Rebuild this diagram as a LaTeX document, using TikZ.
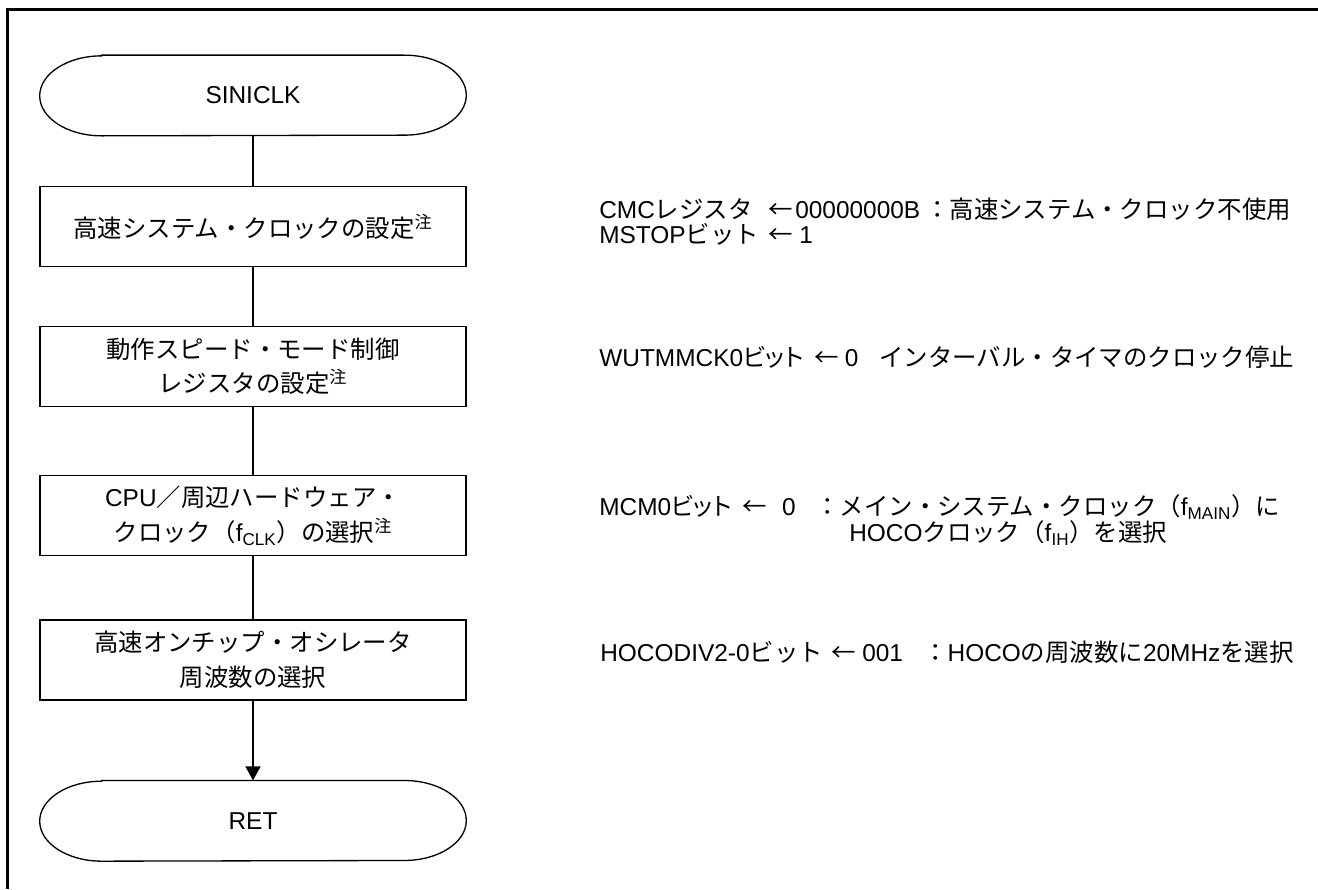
\documentclass[tikz,border=0pt]{standalone}
\usepackage{fontspec}
\setmainfont{Liberation Sans}
\newfontfamily\jp{Noto Sans CJK JP}
\newfontfamily\jpp{Noto Sans CJK JP}[RawFeature=+palt]
\usetikzlibrary{positioning,arrows.meta}

% fixed-width piece of a register line
\newcommand\regcol[2]{\makebox[#1][l]{#2}}

\begin{document}
\begin{tikzpicture}[x=0.02cm, y=-0.02cm, node distance=1cm,
    >={Triangle[width=8.5pt,length=8pt]},
    font=\fontsize{13.9}{19.9}\selectfont,
    term/.style={minimum width=8.52cm, minimum height=1.6cm, inner sep=0pt},
    proc/.style={term, draw, line width=0.75pt, align=center},
    flow/.style={line width=0.9pt},
    note/.style={anchor=base west, inner sep=0pt}]

  \useasboundingbox (0,0) rectangle (1318,889);
  \draw[line width=1.15pt] (7.5,889) -- (7.5,9.5) -- (1318,9.5);

  % flow chart
  \node[term] (start) at (253,95.5) {SINICLK};
  \node[proc] (hsclk) [below=1.0cm of start] {{\jp 高速システム・クロックの設定\textsuperscript{注}}};
  \node[proc] (mode) [below=1.17cm of hsclk] {{\jp 動作スピード・モード制御}\\{\jp レジスタの設定\textsuperscript{注}}};
  \node[proc] (fclk) [below=1.36cm of mode] {CPU{\jp ／周辺ハードウェア・}\\{\jp クロック（}f\textsubscript{CLK}{\jp ）の選択\textsuperscript{注}}};
  \node[proc] (hoco) [below=1.26cm of fclk] {{\jp 高速オンチップ・オシレータ}\\{\jp 周波数の選択}};
  \node[term] (ret) [below=1.6cm of hoco] {RET};

  \foreach \t in {start,ret}
    \draw[line width=0.75pt] ([xshift=1.24cm]\t.north west) -- ([xshift=-1.24cm]\t.north east)
      arc[start angle=90, end angle=-90, x radius=1.24cm, y radius=0.8cm]
      -- ([xshift=1.24cm]\t.south west)
      arc[start angle=270, end angle=90, x radius=1.24cm, y radius=0.8cm] -- cycle;

  \path[draw, flow]
    (start) edge (hsclk)
    (hsclk) edge (mode)
    (mode) edge (fclk)
    (fclk) edge (hoco)
    (hoco) edge[->] (ret);

  % register notes
  \node[note] (cmc) at (599,218.5) {\regcol{3.38cm}{CMC{\jp レジスタ}}\regcol{0.54cm}{\jp ←}\regcol{2.6cm}{00000000B}{\jp ：高速システム・クロック不使用}};
  \node[note] (mstop) at (599,243.5) {\regcol{3.38cm}{MSTOP{\jp ビット}}\regcol{0.62cm}{\jp ←}1};
  \node[note] (wut) at (599,366.5) {\regcol{5.6cm}{WUTMMCK0{\jpp ビット}\hspace{0.22cm}{\jp ←}\hspace{0.12cm}0}{\jp インターバル・タイマのクロック停止}};
  \node[note] (mcm) at (599,515.5) {\regcol{4.32cm}{MCM0{\jpp ビット}\hspace{0.22cm}{\jp ←}\hspace{0.3cm}0}{\jp ：メイン・システム・クロック（}f\textsubscript{MAIN}{\jp ）に}};
  \node[note] (fih) at (849,541.5) {HOCO{\jp クロック（}f\textsubscript{IH}{\jp ）を選択}};
  \node[note] (div) at (600,661.5) {\regcol{4.62cm}{HOCODIV2-0{\jp ビット}}\regcol{0.62cm}{\jp ←}\regcol{1.22cm}{001}{\jp ：}HOCO{\jp の周波数に}20MHz{\jp を選択}};
\end{tikzpicture}
\end{document}
